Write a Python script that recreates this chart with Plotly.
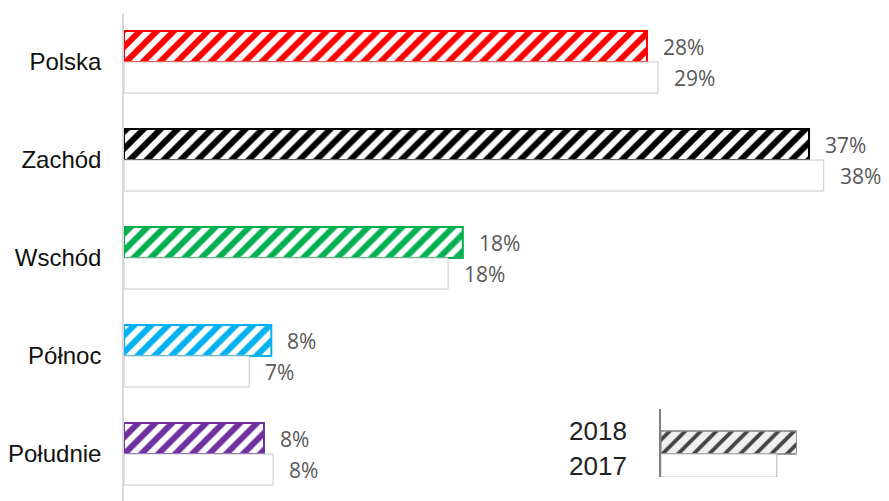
import plotly.graph_objects as go

categories = ["Polska", "Zachód", "Wschód", "Północ", "Południe"]
values_2018 = [28.4, 37.2, 18.4, 8.0, 7.6]
values_2017 = [29.0, 38.0, 17.6, 6.8, 8.1]
colors_2018 = ["#ff0000", "#000000", "#00b050", "#00b0f0", "#7030a0"]
series_names = ["2018", "2017"]
legend_lengths = [1.0, 0.853]

fig = go.Figure()

fig.add_trace(go.Bar(
    name="2018", y=categories, x=values_2018, orientation="h",
    marker=dict(color="white",
                line=dict(color=colors_2018, width=2),
                pattern=dict(shape="/", fgcolor=colors_2018, bgcolor="white",
                             fgopacity=1, size=12, solidity=0.5)),
    hoverinfo="x+y", showlegend=False))
fig.add_trace(go.Bar(
    name="2017", y=categories, x=values_2017, orientation="h",
    marker=dict(color="white", line=dict(color="#c8c8c8", width=1)),
    hoverinfo="x+y", showlegend=False))

annotations = []
for vals, ys in ((values_2018, 15.5), (values_2017, -15.5)):
    for c, v in zip(categories, vals):
        annotations.append(dict(
            x=v, y=c, xref="x", yref="y", text=f"{round(v):.0f}%",
            showarrow=False, xanchor="left", yanchor="middle",
            xshift=14, yshift=ys,
            font=dict(family="Open Sans", size=21, color="#595959")))

# mini legend chart
fig.add_trace(go.Bar(
    y=[0, 1], x=legend_lengths, orientation="h", xaxis="x2", yaxis="y2",
    width=[1, 1],
    marker=dict(color=["#f0f0f0", "white"],
                line=dict(color=["#7f7f7f", "#c0c0c0"], width=[1.5, 1.2]),
                pattern=dict(shape=["/", ""], fgcolor=["#707070", "white"],
                             bgcolor=["#f0f0f0", "white"], fgopacity=1,
                             size=11, solidity=0.35)),
    hoverinfo="skip", showlegend=False))

for i, name in enumerate(series_names):
    annotations.append(dict(
        x=0, y=[-0.5, 1.0][i], xref="x2", yref="y2", text=name, showarrow=False,
        xanchor="right", yanchor="middle", xshift=-32,
        font=dict(family="Liberation Sans", size=26, color="#222222")))

# page body has an 8px margin, so the figure is offset by (8, 8)
fig.update_layout(
    width=881, height=495,
    margin=dict(l=116, r=10, t=5, b=0, autoexpand=False),
    paper_bgcolor="white", plot_bgcolor="white",
    barmode="group", bargap=0.367, bargroupgap=0,
    xaxis=dict(range=[0, 41], visible=False, domain=[0, 1], automargin=False),
    yaxis=dict(autorange="reversed", showline=True, linecolor="#d9d9d9",
               linewidth=1.5, ticks="", showgrid=False, ticklabelstandoff=16,
               automargin=False,
               tickfont=dict(family="Liberation Sans", size=24, color="#111111")),
    xaxis2=dict(domain=[0.711, 0.891], range=[0, 1], anchor="y2", visible=False),
    yaxis2=dict(domain=[0.053, 0.192], range=[1.5, -1.46], anchor="x2",
                showline=True, linecolor="#808080", linewidth=1.5,
                showticklabels=False, ticks="", showgrid=False, zeroline=False),
    annotations=annotations,
)

fig.write_html("out.html")
